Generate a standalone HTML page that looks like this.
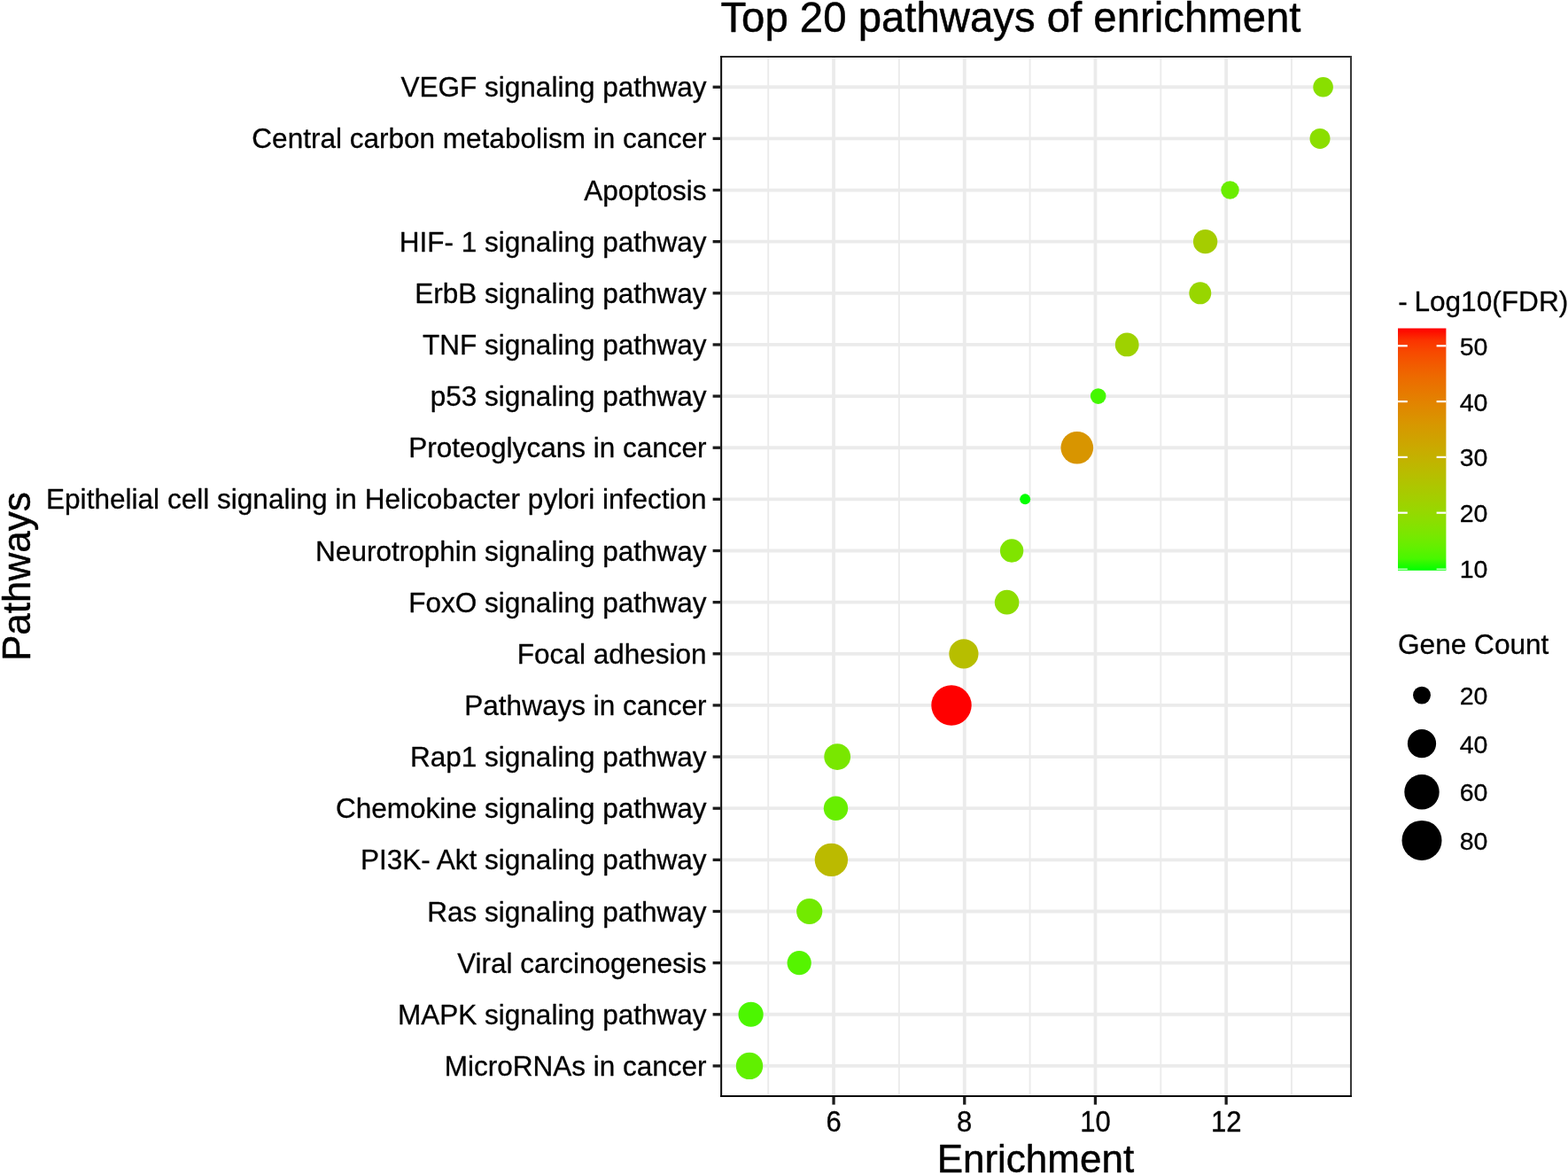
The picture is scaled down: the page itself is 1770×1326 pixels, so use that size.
<!DOCTYPE html>
<html lang="en">
<head>
<meta charset="utf-8">
<title>Top 20 pathways of enrichment</title>
<style>
html,body{margin:0;padding:0;background:#fff;}
body{width:1770px;height:1326px;overflow:hidden;font-family:'Liberation Sans', sans-serif;}
svg{display:block;}
svg text{font-kerning:normal;stroke:#000;stroke-width:0.3px;stroke-linejoin:round;}
svg text.big{stroke-width:0.45px;}
</style>
</head>
<body>
<svg width="1770" height="1326" viewBox="0 0 1770 1326" font-family="'Liberation Sans', sans-serif" fill="#000">
<rect x="0" y="0" width="1770" height="1326" fill="#fff"/>
<defs><clipPath id="pc"><rect x="813.0" y="63.0" width="713.0" height="1175.0"/></clipPath>
<linearGradient id="cb" x1="0" y1="0" x2="0" y2="1"><stop offset="0.0%" stop-color="#ff0000"/><stop offset="5.0%" stop-color="#fb3300"/><stop offset="10.0%" stop-color="#f74a00"/><stop offset="15.0%" stop-color="#f25b00"/><stop offset="20.0%" stop-color="#ed6a00"/><stop offset="25.0%" stop-color="#e87600"/><stop offset="30.0%" stop-color="#e38200"/><stop offset="35.0%" stop-color="#dd8d00"/><stop offset="40.0%" stop-color="#d79800"/><stop offset="45.0%" stop-color="#d0a100"/><stop offset="50.0%" stop-color="#c9ab00"/><stop offset="55.0%" stop-color="#c1b400"/><stop offset="60.0%" stop-color="#b8bd00"/><stop offset="65.0%" stop-color="#aec600"/><stop offset="70.0%" stop-color="#a4ce00"/><stop offset="75.0%" stop-color="#98d700"/><stop offset="80.0%" stop-color="#8adf00"/><stop offset="85.0%" stop-color="#7ae700"/><stop offset="90.0%" stop-color="#65ef00"/><stop offset="95.0%" stop-color="#49f700"/><stop offset="100.0%" stop-color="#00ff00"/></linearGradient></defs>
<g clip-path="url(#pc)">
<g stroke="#ebebeb" stroke-width="1.9" fill="none">
<line x1="867.20" y1="63.0" x2="867.20" y2="1238.0"/>
<line x1="1014.90" y1="63.0" x2="1014.90" y2="1238.0"/>
<line x1="1162.60" y1="63.0" x2="1162.60" y2="1238.0"/>
<line x1="1310.30" y1="63.0" x2="1310.30" y2="1238.0"/>
<line x1="1458.00" y1="63.0" x2="1458.00" y2="1238.0"/>
</g>
<g stroke="#ebebeb" stroke-width="3.8" fill="none">
<line x1="941.05" y1="63.0" x2="941.05" y2="1238.0"/>
<line x1="1088.75" y1="63.0" x2="1088.75" y2="1238.0"/>
<line x1="1236.45" y1="63.0" x2="1236.45" y2="1238.0"/>
<line x1="1384.15" y1="63.0" x2="1384.15" y2="1238.0"/>
<line x1="813.0" y1="98.25" x2="1526.0" y2="98.25"/>
<line x1="813.0" y1="156.39" x2="1526.0" y2="156.39"/>
<line x1="813.0" y1="214.53" x2="1526.0" y2="214.53"/>
<line x1="813.0" y1="272.67" x2="1526.0" y2="272.67"/>
<line x1="813.0" y1="330.81" x2="1526.0" y2="330.81"/>
<line x1="813.0" y1="388.95" x2="1526.0" y2="388.95"/>
<line x1="813.0" y1="447.09" x2="1526.0" y2="447.09"/>
<line x1="813.0" y1="505.23" x2="1526.0" y2="505.23"/>
<line x1="813.0" y1="563.37" x2="1526.0" y2="563.37"/>
<line x1="813.0" y1="621.51" x2="1526.0" y2="621.51"/>
<line x1="813.0" y1="679.65" x2="1526.0" y2="679.65"/>
<line x1="813.0" y1="737.79" x2="1526.0" y2="737.79"/>
<line x1="813.0" y1="795.93" x2="1526.0" y2="795.93"/>
<line x1="813.0" y1="854.07" x2="1526.0" y2="854.07"/>
<line x1="813.0" y1="912.21" x2="1526.0" y2="912.21"/>
<line x1="813.0" y1="970.35" x2="1526.0" y2="970.35"/>
<line x1="813.0" y1="1028.49" x2="1526.0" y2="1028.49"/>
<line x1="813.0" y1="1086.63" x2="1526.0" y2="1086.63"/>
<line x1="813.0" y1="1144.77" x2="1526.0" y2="1144.77"/>
<line x1="813.0" y1="1202.91" x2="1526.0" y2="1202.91"/>
</g>
<g stroke="none">
<circle cx="1493.6" cy="98.25" r="11.3" fill="#89df00"/>
<circle cx="1490.0" cy="156.39" r="11.5" fill="#8bde00"/>
<circle cx="1388.5" cy="214.53" r="10.2" fill="#6aed00"/>
<circle cx="1360.6" cy="272.67" r="13.7" fill="#a5cd00"/>
<circle cx="1354.8" cy="330.81" r="12.5" fill="#98d600"/>
<circle cx="1272.2" cy="388.95" r="13.4" fill="#9ed200"/>
<circle cx="1239.7" cy="447.09" r="8.8" fill="#44f800"/>
<circle cx="1215.8" cy="505.23" r="18.3" fill="#d89500"/>
<circle cx="1157.2" cy="563.37" r="6.0" fill="#04ff00"/>
<circle cx="1142.1" cy="621.51" r="13.2" fill="#80e400"/>
<circle cx="1136.6" cy="679.65" r="13.8" fill="#8ddd00"/>
<circle cx="1087.9" cy="737.79" r="16.6" fill="#b7be00"/>
<circle cx="1074.0" cy="795.93" r="22.7" fill="#ff0000"/>
<circle cx="945.2" cy="854.07" r="14.9" fill="#79e700"/>
<circle cx="943.5" cy="912.21" r="13.7" fill="#68ee00"/>
<circle cx="938.4" cy="970.35" r="18.7" fill="#bbba00"/>
<circle cx="913.7" cy="1028.49" r="14.6" fill="#72ea00"/>
<circle cx="902.2" cy="1086.63" r="13.6" fill="#55f400"/>
<circle cx="847.6" cy="1144.77" r="14.1" fill="#4cf600"/>
<circle cx="846.0" cy="1202.91" r="15.2" fill="#61f000"/>
</g>
<line x1="813.0" y1="64.0" x2="1526.0" y2="64.0" stroke="#2a2a2a" stroke-width="2.1"/>
<line x1="1525.0" y1="63.0" x2="1525.0" y2="1238.0" stroke="#3a3a3a" stroke-width="2.1"/>
<line x1="813.0" y1="1237.0" x2="1526.0" y2="1237.0" stroke="#0c0c0c" stroke-width="2.0"/>
<line x1="814.15" y1="63.0" x2="814.15" y2="1238.0" stroke="#0c0c0c" stroke-width="2.0"/>
</g>
<g stroke="#1c1c1c" stroke-width="3.3" fill="none">
<line x1="804.6" y1="98.25" x2="813.0" y2="98.25"/>
<line x1="804.6" y1="156.39" x2="813.0" y2="156.39"/>
<line x1="804.6" y1="214.53" x2="813.0" y2="214.53"/>
<line x1="804.6" y1="272.67" x2="813.0" y2="272.67"/>
<line x1="804.6" y1="330.81" x2="813.0" y2="330.81"/>
<line x1="804.6" y1="388.95" x2="813.0" y2="388.95"/>
<line x1="804.6" y1="447.09" x2="813.0" y2="447.09"/>
<line x1="804.6" y1="505.23" x2="813.0" y2="505.23"/>
<line x1="804.6" y1="563.37" x2="813.0" y2="563.37"/>
<line x1="804.6" y1="621.51" x2="813.0" y2="621.51"/>
<line x1="804.6" y1="679.65" x2="813.0" y2="679.65"/>
<line x1="804.6" y1="737.79" x2="813.0" y2="737.79"/>
<line x1="804.6" y1="795.93" x2="813.0" y2="795.93"/>
<line x1="804.6" y1="854.07" x2="813.0" y2="854.07"/>
<line x1="804.6" y1="912.21" x2="813.0" y2="912.21"/>
<line x1="804.6" y1="970.35" x2="813.0" y2="970.35"/>
<line x1="804.6" y1="1028.49" x2="813.0" y2="1028.49"/>
<line x1="804.6" y1="1086.63" x2="813.0" y2="1086.63"/>
<line x1="804.6" y1="1144.77" x2="813.0" y2="1144.77"/>
<line x1="804.6" y1="1202.91" x2="813.0" y2="1202.91"/>
<line x1="941.05" y1="1238.0" x2="941.05" y2="1246.6"/>
<line x1="1088.75" y1="1238.0" x2="1088.75" y2="1246.6"/>
<line x1="1236.45" y1="1238.0" x2="1236.45" y2="1246.6"/>
<line x1="1384.15" y1="1238.0" x2="1384.15" y2="1246.6"/>
</g>
<g font-size="31.52" text-anchor="end">
<text x="797.6" y="109.35">VEGF signaling pathway</text>
<text x="797.6" y="167.49">Central carbon metabolism in cancer</text>
<text x="797.6" y="225.63">Apoptosis</text>
<text x="797.6" y="283.77">HIF- 1 signaling pathway</text>
<text x="797.6" y="341.91">ErbB signaling pathway</text>
<text x="797.6" y="400.05">TNF signaling pathway</text>
<text x="797.6" y="458.19">p53 signaling pathway</text>
<text x="797.6" y="516.33">Proteoglycans in cancer</text>
<text x="797.6" y="574.47" letter-spacing="0.018">Epithelial cell signaling in Helicobacter pylori infection</text>
<text x="797.6" y="632.61">Neurotrophin signaling pathway</text>
<text x="797.6" y="690.75">FoxO signaling pathway</text>
<text x="797.6" y="748.89">Focal adhesion</text>
<text x="797.6" y="807.03">Pathways in cancer</text>
<text x="797.6" y="865.17">Rap1 signaling pathway</text>
<text x="797.6" y="923.31">Chemokine signaling pathway</text>
<text x="797.6" y="981.45">PI3K- Akt signaling pathway</text>
<text x="797.6" y="1039.59">Ras signaling pathway</text>
<text x="797.6" y="1097.73">Viral carcinogenesis</text>
<text x="797.6" y="1155.87">MAPK signaling pathway</text>
<text x="797.6" y="1214.01">MicroRNAs in cancer</text>
</g>
<g font-size="31.52" text-anchor="middle">
<text transform="translate(941.05,1276.6) scale(0.985,1.03)">6</text>
<text transform="translate(1088.75,1276.6) scale(0.985,1.03)">8</text>
<text transform="translate(1236.45,1276.6) scale(0.985,1.03)">10</text>
<text transform="translate(1384.15,1276.6) scale(0.985,1.03)">12</text>
</g>
<text class="big" x="813.4" y="35.5" font-size="47.34">Top 20 pathways of enrichment</text>
<text class="big" x="1168.9" y="1322.7" font-size="44.0" text-anchor="middle">Enrichment</text>
<text class="big" transform="translate(34,650.7) rotate(-90)" font-size="44.0" text-anchor="middle">Pathways</text>
<text x="1578.2" y="351.2" font-size="31.6">- <tspan dx="-1.1">Log10(FDR)</tspan></text>
<rect x="1578.0" y="370.5" width="54.4" height="273.3" fill="url(#cb)"/>
<g stroke="#fff" stroke-width="2.2">
<line x1="1578.0" y1="390.3" x2="1588.8" y2="390.3"/>
<line x1="1621.6" y1="390.3" x2="1632.4" y2="390.3"/>
<line x1="1578.0" y1="453.1" x2="1588.8" y2="453.1"/>
<line x1="1621.6" y1="453.1" x2="1632.4" y2="453.1"/>
<line x1="1578.0" y1="515.9" x2="1588.8" y2="515.9"/>
<line x1="1621.6" y1="515.9" x2="1632.4" y2="515.9"/>
<line x1="1578.0" y1="578.7" x2="1588.8" y2="578.7"/>
<line x1="1621.6" y1="578.7" x2="1632.4" y2="578.7"/>
<line x1="1578.0" y1="642.3" x2="1588.8" y2="642.3" stroke="#b4ffb4" stroke-width="1.7"/>
<line x1="1621.6" y1="642.3" x2="1632.4" y2="642.3" stroke="#b4ffb4" stroke-width="1.7"/>
</g>
<g font-size="28.5">
<text x="1647.7" y="400.85">50</text>
<text x="1647.7" y="463.65">40</text>
<text x="1647.7" y="526.45">30</text>
<text x="1647.7" y="589.25">20</text>
<text x="1647.7" y="652.05">10</text>
</g>
<text x="1578" y="738.0" font-size="31.6">Gene Count</text>
<circle cx="1605" cy="784.6" r="9.95" fill="#000"/>
<circle cx="1605" cy="839.2" r="16.1" fill="#000"/>
<circle cx="1605" cy="893.7" r="19.7" fill="#000"/>
<circle cx="1605" cy="948.4" r="22.5" fill="#000"/>
<g font-size="28.5">
<text x="1647.7" y="795.15">20</text>
<text x="1647.7" y="849.75">40</text>
<text x="1647.7" y="904.25">60</text>
<text x="1647.7" y="958.95">80</text>
</g>
</svg>
</body>
</html>
